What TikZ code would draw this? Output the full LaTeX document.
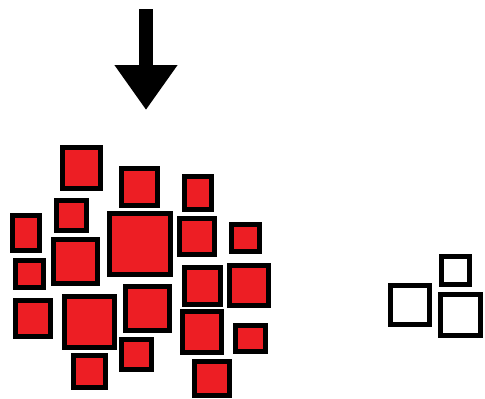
\documentclass[tikz,border=0pt]{standalone}
\usetikzlibrary{arrows.meta}
\definecolor{cellred}{RGB}{237,30,36}
\tikzset{
  cell/.style={draw=black, fill=cellred, line width=5pt, inner sep=0pt, outer sep=0pt},
  empty/.style={cell, fill=white}
}
\newcommand{\Cell}[6][cell]{\node[#1, minimum width=#5-5, minimum height=#6-5] (#2) at (#3,-#4) {};}

\begin{document}
\begin{tikzpicture}[x=1pt, y=1pt]
    \useasboundingbox (0,0) rectangle (485,-399);

    \coordinate (drop) at (146,-9);
    \coordinate (target) at (146,-110);
    \draw[line width=14pt, -{Triangle[width=60pt, length=45pt]}] (drop) -- (target);

    \Cell{a}{81.5}{168}{43}{46}
    \Cell{b}{139.5}{187}{41}{42}
    \Cell{c}{198}{193}{32}{38}
    \Cell{d}{71.5}{215.5}{35}{35}
    \Cell{e}{26}{233}{32}{40}
    \Cell{f}{140}{244}{66}{66}
    \Cell{g}{197}{236.5}{40}{41}
    \Cell{h}{245.5}{238}{33}{32}
    \Cell{i}{75.5}{261.5}{49}{49}
    \Cell{j}{29.5}{274}{33}{32}
    \Cell{k}{202.5}{286}{41}{42}
    \Cell{l}{249}{285.5}{44}{45}
    \Cell{m}{33}{318.5}{40}{41}
    \Cell{n}{89.5}{322}{55}{56}
    \Cell{o}{147.5}{308.5}{49}{49}
    \Cell{p}{202}{332}{44}{46}
    \Cell{q}{250.5}{338.5}{35}{31}
    \Cell{r}{136.5}{354.5}{35}{35}
    \Cell{s}{89.5}{371.5}{37}{37}
    \Cell{t}{212}{378.5}{40}{39}

    \Cell[empty]{u}{455.5}{270.5}{33}{33}
    \Cell[empty]{v}{410}{305}{44}{44}
    \Cell[empty]{w}{460.5}{315}{45}{46}
\end{tikzpicture}
\end{document}
